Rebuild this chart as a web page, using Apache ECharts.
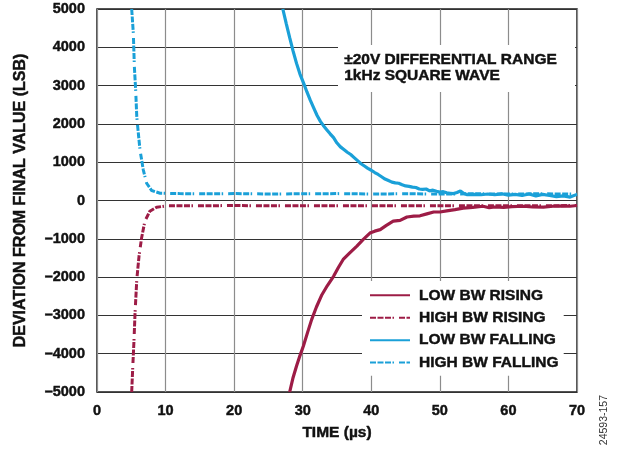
<!DOCTYPE html>
<html>
<head>
<meta charset="utf-8">
<script src="https://cdn.jsdelivr.net/npm/echarts@6/dist/echarts.min.js"></script>
<style>html,body{margin:0;padding:0;background:#fff}#c{width:626px;height:450px}</style>
</head>
<body>
<div id="c"></div>
<script>
// ---- data (time in µs, deviation in LSB) ----
var seriesNames = ['LOW BW RISING', 'HIGH BW RISING', 'LOW BW FALLING', 'HIGH BW FALLING'];
var xTicks = [0, 10, 20, 30, 40, 50, 60, 70];
var yTicks = [-5000, -4000, -3000, -2000, -1000, 0, 1000, 2000, 3000, 4000, 5000];

var lowBwRising = [
  [28.1,-5000],[28.6,-4620],[29.1,-4320],[29.6,-4050],[30.1,-3800],[30.7,-3450],[31.3,-3110],[32.0,-2780],
  [32.8,-2460],[33.6,-2220],[34.5,-1980],[35.2,-1750],[35.9,-1540],[36.9,-1360],[37.9,-1190],[38.8,-1020],
  [39.8,-850],[40.5,-800],[41.3,-760],[42.2,-650],[43.2,-540],[44.2,-520],[45.2,-430],[46.2,-410],
  [47.1,-400],[48.1,-350],[49.1,-300],[50.0,-300],[51.0,-270],[52.2,-240],[53.4,-200],[54.8,-180],
  [56.3,-150],[57.2,-190],[58.0,-170],[59.3,-180],[60.5,-160],[62.2,-150],[63.5,-170],[65.1,-175],
  [66.5,-150],[68.1,-140],[69.0,-150],[70.0,-130]
];
var highBwRising = [
  [5.06,-5000],[5.2,-4410],[5.4,-3630],[5.55,-2930],[5.8,-2070],[6.13,-1450],[6.5,-980],[6.98,-540],
  [7.7,-280],[8.7,-175],[10.2,-140],[15,-140],[20,-130],[25,-140],[30,-135],[35,-140],[40,-135],
  [45,-140],[50,-135],[55,-140],[60,-135],[65,-140],[70,-130]
];
var lowBwFalling = [
  [27.1,5000],[27.6,4620],[28.1,4250],[28.6,3900],[29.1,3580],[29.6,3300],[30.1,3080],[30.6,2840],
  [31.1,2620],[31.6,2420],[32.1,2220],[32.6,2060],[33.0,1960],[33.5,1850],[34.0,1740],[34.5,1640],
  [35.0,1500],[35.5,1400],[36.0,1330],[36.5,1260],[37.0,1200],[37.5,1120],[38.0,1040],[38.5,960],
  [39.0,900],[39.5,840],[40.0,790],[40.5,730],[41.0,680],[41.5,620],[42.0,560],[42.5,520],
  [43.0,480],[43.5,460],[44.0,450],[44.5,410],[45.0,380],[45.5,370],[46.0,350],[46.5,340],
  [47.0,300],[47.5,290],[48.0,300],[48.5,250],[49.0,270],[49.5,240],[50.0,220],[50.5,230],
  [51.0,200],[51.5,190],[52.0,180],[52.5,210],[53.0,250],[53.5,180],[54.0,150],[55.0,160],
  [56.0,150],[57.0,170],[58.0,150],[59.0,175],[60.0,140],[61.0,160],[62.0,130],[63.0,170],
  [64.0,120],[65.0,160],[66.0,130],[67.0,100],[68.0,120],[69.0,90],[70.0,160]
];
var highBwFalling = [
  [5.06,5000],[5.3,4360],[5.45,3490],[5.64,2880],[5.8,2190],[6.03,1750],[6.27,1320],[6.75,800],
  [7.24,450],[7.97,260],[9.2,190],[12,180],[15,175],[20,180],[25,170],[30,175],[35,180],
  [40,170],[45,175],[50,170],[55,175],[60,170],[65,175],[70,165]
];

var RED = '#9D1C46';
var BLUE = '#1AA0D8';
var DASH = [6, 1.5, 6, 1.5, 6, 1.5, 1.5, 5];
var INK = '#111';

var chart = echarts.init(document.getElementById('c'));
var font = 'Liberation Sans, Arial, sans-serif';
function ts(size) {
  return {fontFamily: font, fontWeight: 'bold', fontSize: size, color: INK,
    textBorderColor: INK, textBorderWidth: 0.45};
}
function mk(name, data, color, dashed) {
  return {
    name: name, type: 'line', data: data, symbol: 'none', smooth: false, clip: true,
    lineStyle: {color: color, width: dashed ? 3 : 3.2, type: dashed ? DASH : 'solid'},
    itemStyle: {color: color}
  };
}
var legendText = ts(15.5);
legendText.padding = [0, 0, 0, 4];
var yLab = ts(14.5);
yLab.margin = 12;
yLab.formatter = function (v) { return String(v).replace('-', '\u2013'); };
var xLab = ts(14.5);
xLab.margin = 11;

chart.setOption({
  animation: false,
  grid: {left: 97, right: 49, top: 9, bottom: 58, show: true, borderColor: '#1a1a1a', borderWidth: 1.5},
  xAxis: {
    type: 'value', min: xTicks[0], max: xTicks[xTicks.length - 1], interval: 10,
    name: 'TIME (µs)', nameLocation: 'middle', nameGap: 33,
    nameTextStyle: ts(15.5),
    axisLine: {show: false}, axisTick: {show: false},
    axisLabel: xLab,
    splitLine: {show: true, lineStyle: {color: '#8c8c8c', width: 1.2}}
  },
  yAxis: {
    type: 'value', min: yTicks[0], max: yTicks[yTicks.length - 1], interval: 1000,
    name: 'DEVIATION FROM FINAL VALUE (LSB)', nameLocation: 'middle', nameGap: 68, nameRotate: 90,
    nameTextStyle: ts(16),
    axisLine: {show: false}, axisTick: {show: false},
    axisLabel: yLab,
    splitLine: {show: true, lineStyle: {color: '#333', width: 1.2}}
  },
  legend: {
    show: true, orient: 'vertical', left: 362, top: 281,
    backgroundColor: '#fff', padding: [6, 5, 5, 7], itemGap: 6,
    itemWidth: 40, itemHeight: 14,
    itemStyle: {opacity: 0},
    data: seriesNames,
    textStyle: legendText
  },
  graphic: [
    {type: 'rect', left: 338, top: 45, shape: {width: 237, height: 47}, style: {fill: '#fff'}, z: 50},
    {type: 'text', left: 344, top: 51, z: 51, style: {text: '\u00b120V DIFFERENTIAL RANGE\n1kHz SQUARE WAVE',
      font: 'bold 15.5px ' + font, fill: INK, stroke: INK, lineWidth: 0.45, lineHeight: 16.5}},
    {type: 'text', left: 599, top: 395, rotation: Math.PI / 2, z: 51,
      style: {text: '24593-157', font: '10.5px ' + font, fill: '#333'}}
  ],
  series: [
    mk(seriesNames[0], lowBwRising, RED, false),
    mk(seriesNames[1], highBwRising, RED, true),
    mk(seriesNames[2], lowBwFalling, BLUE, false),
    mk(seriesNames[3], highBwFalling, BLUE, true)
  ]
});
</script>
</body>
</html>
